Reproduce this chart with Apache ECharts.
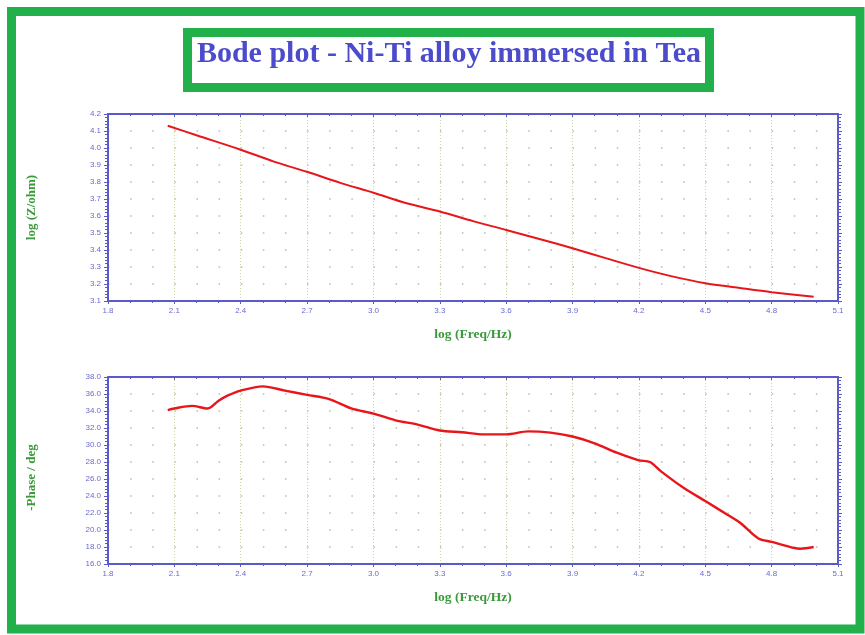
<!DOCTYPE html>
<html>
<head>
<meta charset="utf-8">
<script src="https://cdn.jsdelivr.net/npm/echarts@6/dist/echarts.min.js"></script>
<style>html,body{margin:0;padding:0;background:#fff;}#c{width:865px;height:635px;}</style>
</head>
<body>
<div id="c"></div>
<script>
// ---- data ----
const titleText = 'Bode plot - Ni-Ti alloy immersed in Tea';
const xAxisName = 'log (Freq/Hz)';
const zAxisName = 'log (Z/ohm)';
const phaseAxisName = '-Phase / deg';

const zFreq = [2.07, 2.2, 2.4, 2.55, 2.7, 2.85, 3.0, 3.15, 3.3, 3.45, 3.6, 3.75, 3.9, 4.05, 4.2, 4.35, 4.5, 4.65, 4.8, 4.99];
const zValues = [4.131, 4.075, 3.99, 3.92, 3.86, 3.795, 3.737, 3.675, 3.627, 3.57, 3.518, 3.465, 3.41, 3.352, 3.295, 3.245, 3.205, 3.178, 3.152, 3.125];

const phFreq = [2.07, 2.1, 2.18, 2.25, 2.3, 2.34, 2.4, 2.5, 2.6, 2.7, 2.8, 2.9, 3.0, 3.1, 3.2, 3.3, 3.4, 3.5, 3.6, 3.7, 3.8, 3.9, 4.0, 4.1, 4.2, 4.25, 4.3, 4.4, 4.5, 4.6, 4.66, 4.74, 4.8, 4.9, 4.93, 4.99];
const phValues = [34.1, 34.3, 34.6, 34.3, 35.2, 35.8, 36.4, 36.9, 36.4, 35.9, 35.4, 34.3, 33.7, 32.9, 32.4, 31.7, 31.5, 31.25, 31.25, 31.6, 31.45, 31.0, 30.2, 29.1, 28.2, 28.0, 26.9, 25.0, 23.4, 21.8, 20.8, 19.0, 18.6, 17.9, 17.8, 18.0];

const xRange = [1.8, 5.1, 0.3];
const zRange = [3.1, 4.2, 0.1];
const phRange = [16, 38, 2];

// ---- styles ----
const axisBlue = '#5a5ac8';
const labelBlue = '#6a6ad0';
const nameGreen = '#3a9a3a';
const frameGreen = '#22b04b';
const gridLeft = 108, gridWidth = 730, gridHeight = 187;
const minorPx = gridWidth / 33; // spacing of 0.1 on x

const chart = echarts.init(document.getElementById('c'), null, {renderer: 'canvas'});

function xAxes(gi) {
  return [
    {
      type: 'value', gridIndex: gi, position: 'bottom',
      min: xRange[0], max: xRange[1], interval: xRange[2],
      name: xAxisName, nameLocation: 'middle', nameGap: 27,
      nameTextStyle: {color: nameGreen, fontFamily: 'Liberation Serif', fontWeight: 'bold', fontSize: 13.5},
      axisLine: {show: true, lineStyle: {color: axisBlue, width: 2}},
      axisTick: {show: true, inside: false, length: 3, lineStyle: {color: axisBlue}},
      minorTick: {show: true, splitNumber: 3, length: 2, lineStyle: {color: axisBlue}},
      axisLabel: {color: labelBlue, fontSize: 8, fontFamily: 'Liberation Sans Narrow, Liberation Sans', margin: 6,
        formatter: v => v.toFixed(1)},
      splitLine: {show: true, lineStyle: {color: '#ccd9a0', type: [1, 2], width: 1}}
    },
    {
      type: 'value', gridIndex: gi, position: 'top',
      min: xRange[0], max: xRange[1], interval: xRange[2],
      axisLine: {show: true, lineStyle: {color: axisBlue, width: 2}},
      axisTick: {show: true, inside: true, length: 3, lineStyle: {color: axisBlue}},
      minorTick: {show: true, splitNumber: 3, length: 2, lineStyle: {color: axisBlue}},
      axisLabel: {show: false},
      splitLine: {show: false}
    }
  ];
}

function yAxes(gi, r, name, gap, pad) {
  return [
    {
      type: 'value', gridIndex: gi, position: 'left',
      min: r[0], max: r[1], interval: r[2],
      name: name, nameLocation: 'middle', nameGap: gap, nameRotate: 90,
      nameTextStyle: {color: nameGreen, fontFamily: 'Liberation Serif', fontWeight: 'bold', fontSize: 13, padding: pad},
      axisLine: {show: true, lineStyle: {color: axisBlue, width: 2}},
      axisTick: {show: true, length: 4, lineStyle: {color: axisBlue}},
      minorTick: {show: true, splitNumber: 5, length: 3, lineStyle: {color: axisBlue}},
      axisLabel: {color: labelBlue, fontSize: 8, fontFamily: 'Liberation Sans Narrow, Liberation Sans', margin: 7,
        formatter: v => v.toFixed(1)},
      splitLine: {show: true, lineStyle: {color: '#b8b8b8', width: 1.5, type: [1.5, minorPx - 1.5]}}
    },
    {
      type: 'value', gridIndex: gi, position: 'right',
      min: r[0], max: r[1], interval: r[2],
      axisLine: {show: true, lineStyle: {color: axisBlue, width: 2}},
      axisTick: {show: true, length: 4, lineStyle: {color: axisBlue}},
      minorTick: {show: true, splitNumber: 5, length: 3, lineStyle: {color: axisBlue}},
      axisLabel: {show: false},
      splitLine: {show: false}
    }
  ];
}

const option = {
  backgroundColor: '#ffffff',
  animation: false,
  graphic: [
    {type: 'rect', shape: {x: 11.5, y: 11.5, width: 848.5, height: 617.5},
     style: {fill: 'none', stroke: frameGreen, lineWidth: 9}, z: 100},
    {type: 'rect', shape: {x: 187.5, y: 32.5, width: 522, height: 55},
     style: {fill: '#fff', stroke: frameGreen, lineWidth: 9}, z: 100},
    {type: 'text', x: 449, y: 54, z: 101,
     style: {text: titleText, fill: '#4b4bcc', font: 'bold 30px "Liberation Serif", serif',
       textAlign: 'center', textVerticalAlign: 'middle'}}
  ],
  grid: [
    {left: gridLeft, width: gridWidth, top: 114, height: gridHeight},
    {left: gridLeft, width: gridWidth, top: 377, height: gridHeight}
  ],
  xAxis: [...xAxes(0), ...xAxes(1)],
  yAxis: [...yAxes(0, zRange, zAxisName, 70, 0), ...yAxes(1, phRange, phaseAxisName, 70, [0, 14, 0, 0])],
  series: [
    {type: 'line', xAxisIndex: 0, yAxisIndex: 0, showSymbol: false, smooth: 0.3,
     lineStyle: {color: '#e8161b', width: 2}, data: zFreq.map((f, i) => [f, zValues[i]])},
    {type: 'line', xAxisIndex: 2, yAxisIndex: 2, showSymbol: false, smooth: 0.3,
     lineStyle: {color: '#e8161b', width: 2.4}, data: phFreq.map((f, i) => [f, phValues[i]])}
  ]
};
chart.setOption(option);
</script>
</body>
</html>
